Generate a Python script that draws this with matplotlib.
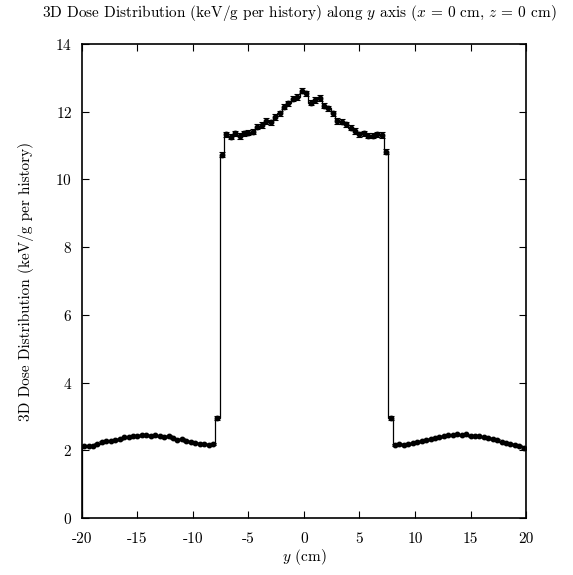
import numpy as np
import matplotlib
matplotlib.use("Agg")
import matplotlib.pyplot as plt

# Data: dose per 0.4 cm bin along y, from -20 to 20 cm
Y_MIN, Y_MAX = -20.0, 20.0
N_BINS = 100

dose_left_tail = [2.12, 2.13, 2.14, 2.20, 2.24, 2.27, 2.29, 2.31, 2.34, 2.38,
                  2.39, 2.42, 2.43, 2.46, 2.45, 2.43, 2.44, 2.43, 2.40, 2.42,
                  2.35, 2.32, 2.34, 2.28, 2.25, 2.23, 2.20, 2.18, 2.17, 2.18]
dose_left_edge = [2.95]
dose_plateau = [10.73, 11.33, 11.26, 11.36, 11.28, 11.36, 11.38, 11.41, 11.56, 11.61,
                11.73, 11.69, 11.85, 11.95, 12.15, 12.25, 12.39, 12.44, 12.62,
                12.54, 12.27, 12.34, 12.41, 12.18, 12.10, 11.95, 11.73, 11.71, 11.63,
                11.53, 11.43, 11.33, 11.36, 11.29, 11.29, 11.33, 11.31, 10.82]
dose_right_edge = [2.95]
dose_right_tail = [2.16, 2.18, 2.16, 2.19, 2.22, 2.24, 2.27, 2.30, 2.33, 2.36,
                   2.40, 2.42, 2.44, 2.45, 2.47, 2.45, 2.47, 2.43, 2.42, 2.41,
                   2.39, 2.36, 2.34, 2.30, 2.26, 2.22, 2.20, 2.16, 2.12, 2.06]

err_tail = 0.025
err_edge = 0.06
err_plateau = 0.08

x_ticks = [-20, -15, -10, -5, 0, 5, 10, 15, 20]
x_ticklabels = ["-20", "-15", "-10", "-5", "0", "5", "10", "15", "20"]
y_ticks = [0, 2, 4, 6, 8, 10, 12, 14]


def main() -> None:
    plt.rcParams["font.family"] = ["cmr10", "DejaVu Serif"]
    plt.rcParams["mathtext.fontset"] = "cm"
    plt.rcParams["axes.unicode_minus"] = False
    plt.rcParams["axes.formatter.use_mathtext"] = True

    dose = np.array(dose_left_tail + dose_left_edge + dose_plateau
                    + dose_right_edge + dose_right_tail)
    err = np.array([err_tail] * len(dose_left_tail) + [err_edge]
                   + [err_plateau] * len(dose_plateau) + [err_edge]
                   + [err_tail] * len(dose_right_tail))
    edges = np.linspace(Y_MIN, Y_MAX, N_BINS + 1)
    centers = 0.5 * (edges[:-1] + edges[1:])

    fig = plt.figure(figsize=(5.73, 5.75), dpi=100)
    ax = fig.add_axes([0.143, 0.099, 0.775, 0.8245])

    ax.stairs(dose, edges, baseline=0, color="black", lw=0.9)
    ax.errorbar(centers, dose, yerr=err, fmt="o", ms=3.2, color="black",
                ecolor="black", elinewidth=0.8, capsize=2.5, capthick=0.8)

    ax.set_xlim(Y_MIN, Y_MAX)
    ax.set_ylim(0, 14)
    ax.set_xticks(x_ticks)
    ax.set_xticklabels(x_ticklabels)
    ax.set_yticks(y_ticks)
    ax.tick_params(direction="in", top=True, right=True, length=5, width=0.8,
                   labelsize=11)
    ax.tick_params(axis="x", pad=10)
    ax.tick_params(axis="y", pad=7)
    for sp in ax.spines.values():
        sp.set_linewidth(1.2)

    ax.set_xlabel("$y$ (cm)", fontsize=11, labelpad=1)
    ax.set_ylabel("3D Dose Distribution (keV/g per history)", fontsize=11, labelpad=15)
    fig.text(0.522, 0.977,
             "3D Dose Distribution (keV/g per history) along $y$ axis ($x$ = 0 cm, $z$ = 0 cm)",
             ha="center", va="center", fontsize=11)

    fig.savefig("out.png", dpi=100)
    plt.close(fig)


if __name__ == "__main__":
    main()
